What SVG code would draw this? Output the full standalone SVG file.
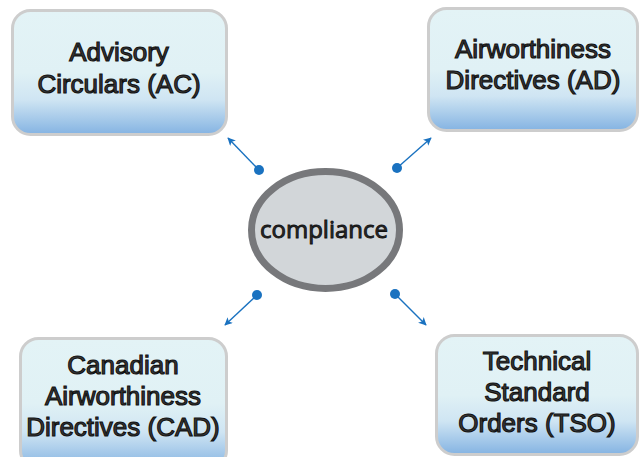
<svg xmlns="http://www.w3.org/2000/svg" width="639" height="457" viewBox="0 0 639 457">
<defs>
<linearGradient id="boxg" x1="0" y1="0" x2="0" y2="1">
<stop offset="0" stop-color="#e3f3f6"/>
<stop offset="0.5" stop-color="#e0f1f5"/>
<stop offset="0.72" stop-color="#cfe5f3"/>
<stop offset="1" stop-color="#84b3e2"/>
</linearGradient>
<marker id="arr" viewBox="0 0 10 10" refX="9" refY="5" markerWidth="8" markerHeight="8" markerUnits="userSpaceOnUse" orient="auto">
<path d="M0,0 L10,5 L0,10 L2.5,5 Z" fill="#1a72c0"/>
</marker>
</defs>
<style>
.box{fill:url(#boxg);stroke:#cdcdcd;stroke-width:3}
.lbl{font-family:"Liberation Sans",Arial,sans-serif;font-size:26px;fill:#3a3a3a;stroke:#111;stroke-width:1.1;text-anchor:middle}
.con{stroke:#1a72c0;stroke-width:1.4;fill:none;marker-end:url(#arr)}
.dot{fill:#1a72c0}
</style>
<rect width="639" height="457" fill="#ffffff"/>
<g id="ac">
<rect class="box" x="12.5" y="10.5" width="214" height="124" rx="18"/>
<text class="lbl" x="119" y="61">Advisory</text>
<text class="lbl" x="119" y="93">Circulars (AC)</text>
</g>
<g id="ad">
<rect class="box" x="428.5" y="8.5" width="209" height="122" rx="18"/>
<text class="lbl" x="533" y="58">Airworthiness</text>
<text class="lbl" x="533" y="89">Directives (AD)</text>
</g>
<g id="cad">
<rect class="box" x="20.5" y="338.5" width="206" height="130" rx="18"/>
<text class="lbl" x="123" y="374">Canadian</text>
<text class="lbl" x="123" y="405">Airworthiness</text>
<text class="lbl" x="123" y="436">Directives (CAD)</text>
</g>
<g id="tso">
<rect class="box" x="436.5" y="335.5" width="201" height="119" rx="18"/>
<text class="lbl" x="537" y="370">Technical</text>
<text class="lbl" x="537" y="401">Standard</text>
<text class="lbl" x="537" y="432">Orders (TSO)</text>
</g>
<g id="compliance">
<ellipse cx="325.5" cy="230" rx="74" ry="58.5" fill="#d2d6d9" stroke="#77787b" stroke-width="7"/>
<text x="324" y="238" font-family="'Open Sans','Noto Sans',sans-serif" font-size="24" fill="#2a2a2a" stroke="#111" stroke-width="0.9" text-anchor="middle">compliance</text>
</g>
<g id="connectors">
<line class="con" x1="259" y1="170" x2="228" y2="138"/>
<circle class="dot" cx="259" cy="170" r="5"/>
<line class="con" x1="397" y1="168" x2="431" y2="138"/>
<circle class="dot" cx="397" cy="168" r="5"/>
<line class="con" x1="257" y1="295" x2="225" y2="325"/>
<circle class="dot" cx="257" cy="295" r="5"/>
<line class="con" x1="395" y1="294" x2="426" y2="325"/>
<circle class="dot" cx="395" cy="294" r="5"/>
</g>
</svg>
